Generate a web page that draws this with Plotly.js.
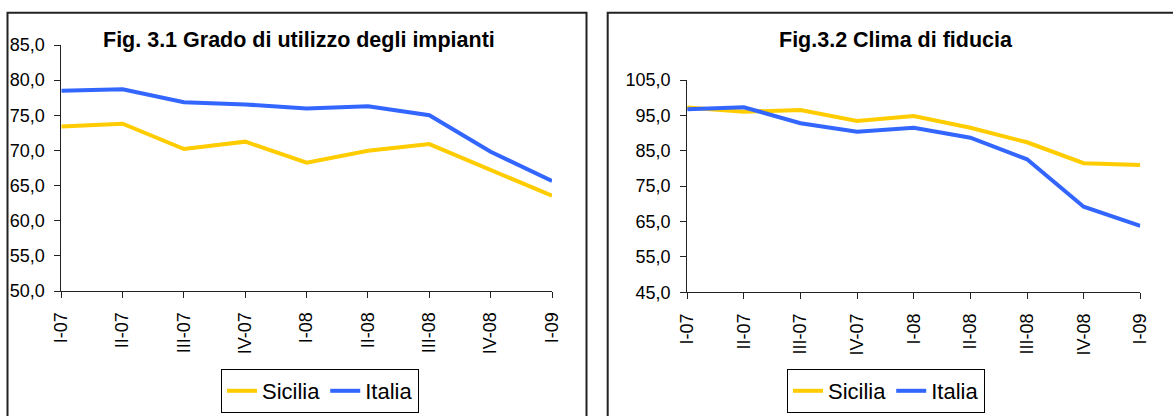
<!DOCTYPE html>
<html>
<head>
<meta charset="utf-8">
<script src="https://cdn.plot.ly/plotly-3.0.1.min.js"></script>
<style>
  html, body { margin: 0; padding: 0; background: #ffffff; }
  #chart { width: 1173px; height: 416px; }
</style>
</head>
<body>
<div id="chart"></div>
<script>
// ---- Data ----
const quarters = ["I-07", "II-07", "III-07", "IV-07", "I-08", "II-08", "III-08", "IV-08", "I-09"];

// Fig. 3.1 Grado di utilizzo degli impianti
const utilizzoSicilia = [73.4, 73.8, 70.2, 71.25, 68.25, 69.95, 70.9, 67.25, 63.55];
const utilizzoItalia  = [78.5, 78.7, 76.85, 76.55, 75.95, 76.3, 75.0, 69.8, 65.65];

// Fig. 3.2 Clima di fiducia
const fiduciaSicilia = [97.2, 96.05, 96.5, 93.4, 94.8, 91.5, 87.4, 81.5, 81.0];
const fiduciaItalia  = [96.7, 97.3, 92.8, 90.4, 91.5, 88.7, 82.6, 69.2, 63.8];

const title1 = "Fig. 3.1 Grado di utilizzo degli impianti";
const title2 = "Fig.3.2 Clima di fiducia";
const seriesNames = ["Sicilia", "Italia"];

// ---- Styles ----
const W = 1173, H = 416;
const FONT = "Liberation Sans, Arial, Helvetica, sans-serif";
const YELLOW = "#FFCC00";
const BLUE = "#3366FF";
const px = v => v / W;
const py = v => 1 - v / H;

const traces = [
  { x: quarters, y: utilizzoSicilia, name: seriesNames[0], type: "scatter", mode: "lines",
    line: { color: YELLOW, width: 4 }, xaxis: "x", yaxis: "y", legend: "legend" },
  { x: quarters, y: utilizzoItalia, name: seriesNames[1], type: "scatter", mode: "lines",
    line: { color: BLUE, width: 4 }, xaxis: "x", yaxis: "y", legend: "legend" },
  { x: quarters, y: fiduciaSicilia, name: seriesNames[0], type: "scatter", mode: "lines",
    line: { color: YELLOW, width: 4 }, xaxis: "x2", yaxis: "y2", legend: "legend2" },
  { x: quarters, y: fiduciaItalia, name: seriesNames[1], type: "scatter", mode: "lines",
    line: { color: BLUE, width: 4 }, xaxis: "x2", yaxis: "y2", legend: "legend2" }
];

const xCommon = {
  type: "category", range: [0, quarters.length - 1], autorange: false,
  showgrid: false, zeroline: false, showline: true, linecolor: "#222", linewidth: 1,
  ticks: "outside", ticklen: 6, tickcolor: "#222", tickwidth: 1,
  tickangle: -90, tickfont: { family: FONT, size: 18, color: "#000" },
  ticklabelstandoff: 7, fixedrange: true
};
const yCommon = {
  showgrid: false, zeroline: false, showline: true, linecolor: "#222", linewidth: 1,
  ticks: "outside", ticklen: 6, tickcolor: "#222", tickwidth: 1,
  tickformat: ".1f", tickfont: { family: FONT, size: 18, color: "#000" },
  ticklabelstandoff: 6, fixedrange: true
};

const legendCommon = {
  orientation: "h", xanchor: "center", yanchor: "middle",
  bgcolor: "#ffffff", bordercolor: "#000", borderwidth: 1,
  font: { family: FONT, size: 22, color: "#000" },
  itemwidth: 30, tracegroupgap: 0, itemclick: false, itemdoubleclick: false
};

const layout = {
  width: W, height: H,
  margin: { l: 0, r: 0, t: 0, b: 0 },
  paper_bgcolor: "#ffffff", plot_bgcolor: "#ffffff",
  separators: ",.",
  font: { family: FONT, color: "#000" },
  showlegend: true,
  xaxis: Object.assign({}, xCommon, { domain: [px(61.3), px(552)], anchor: "y" }),
  yaxis: Object.assign({}, yCommon, { domain: [py(291), py(45)], anchor: "x",
    range: [50, 85], dtick: 5, tick0: 50 }),
  xaxis2: Object.assign({}, xCommon, { domain: [px(687.2), px(1140.3)], anchor: "y2" }),
  yaxis2: Object.assign({}, yCommon, { domain: [py(292.3), py(80)], anchor: "x2",
    range: [45, 105], dtick: 10, tick0: 45 }),
  legend: Object.assign({}, legendCommon, { x: px(320), y: py(391) }),
  legend2: Object.assign({}, legendCommon, { x: px(886), y: py(391) }),
  annotations: [
    { text: "<b>" + title1 + "</b>", xref: "paper", yref: "paper",
      x: px(299), y: py(40), xanchor: "center", yanchor: "middle", showarrow: false,
      font: { family: FONT, size: 21.5, color: "#000" } },
    { text: "<b>" + title2 + "</b>", xref: "paper", yref: "paper",
      x: px(896), y: py(40), xanchor: "center", yanchor: "middle", showarrow: false,
      font: { family: FONT, size: 21.5, color: "#000" } }
  ],
  shapes: [
    { type: "rect", xref: "paper", yref: "paper", layer: "below",
      x0: px(7.5), x1: px(586.5), y0: py(430), y1: py(12.7),
      line: { color: "#222", width: 2 }, fillcolor: "rgba(0,0,0,0)" },
    { type: "rect", xref: "paper", yref: "paper", layer: "below",
      x0: px(607.7), x1: px(1190), y0: py(430), y1: py(12.7),
      line: { color: "#222", width: 2 }, fillcolor: "rgba(0,0,0,0)" }
  ]
};

Plotly.newPlot("chart", traces, layout, { displayModeBar: false, staticPlot: true });
</script>
</body>
</html>
